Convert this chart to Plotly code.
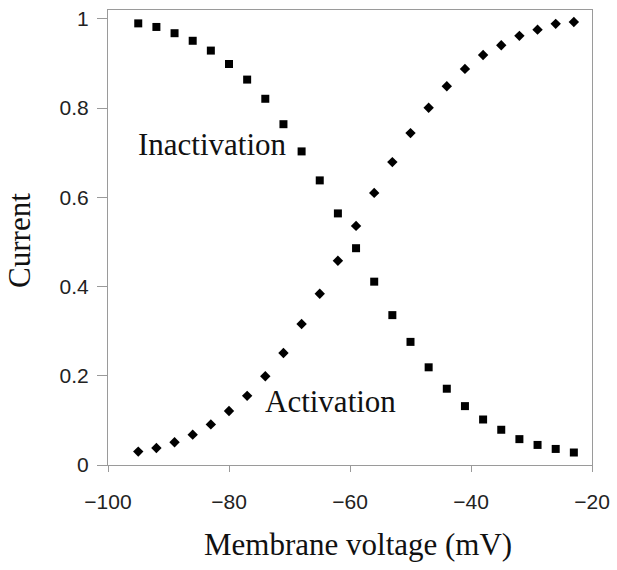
import plotly.graph_objects as go

# Membrane voltage steps (mV)
voltage = [-95, -92, -89, -86, -83, -80, -77, -74, -71, -68, -65, -62, -59,
           -56, -53, -50, -47, -44, -41, -38, -35, -32, -29, -26, -23]

# Normalised current for the inactivation protocol (squares)
inactivation = [0.990, 0.982, 0.968, 0.951, 0.929, 0.899, 0.864, 0.821, 0.764,
                0.703, 0.638, 0.564, 0.486, 0.411, 0.336, 0.276, 0.219, 0.171,
                0.132, 0.102, 0.079, 0.058, 0.045, 0.036, 0.028]

# Normalised current for the activation protocol (diamonds)
activation = [0.030, 0.038, 0.051, 0.068, 0.091, 0.121, 0.155, 0.199, 0.251,
              0.316, 0.384, 0.458, 0.536, 0.610, 0.679, 0.744, 0.801, 0.849,
              0.888, 0.919, 0.941, 0.962, 0.976, 0.989, 0.993]

x_ticks = [-100, -80, -60, -40, -20]
y_ticks = [0, 0.2, 0.4, 0.6, 0.8, 1]

serif = "Liberation Serif, Times New Roman, serif"
sans = "Liberation Sans, Arial, sans-serif"
grey = "#9a9a9a"

fig = go.Figure()
fig.add_trace(go.Scatter(
    x=voltage, y=inactivation, mode="markers", name="Inactivation",
    marker=dict(symbol="square", size=8, color="black"),
))
fig.add_trace(go.Scatter(
    x=voltage, y=activation, mode="markers", name="Activation",
    marker=dict(symbol="diamond", size=8, color="black"),
))

fig.add_annotation(x=-95.4, y=0.718, text="Inactivation", showarrow=False,
                   xanchor="left", yanchor="middle",
                   font=dict(family=serif, size=31, color="#111"))
fig.add_annotation(x=-74.4, y=0.143, text="Activation", showarrow=False,
                   xanchor="left", yanchor="middle",
                   font=dict(family=serif, size=31, color="#111"))

# Axis titles
fig.add_annotation(xref="paper", yref="paper", x=0.517, y=-0.174,
                   text="Membrane voltage (mV)", showarrow=False,
                   xanchor="center", yanchor="middle",
                   font=dict(family=serif, size=31, color="#111"))
fig.add_annotation(xref="paper", yref="paper", x=-0.184, y=0.4945,
                   text="Current", showarrow=False, textangle=-90,
                   xanchor="center", yanchor="middle",
                   font=dict(family=serif, size=31, color="#111"))

fig.update_xaxes(
    range=[-100, -20], tickvals=x_ticks, showgrid=False, zeroline=False,
    showline=True, linecolor=grey, linewidth=1, mirror=True,
    ticks="outside", ticklen=6, tickcolor=grey, ticklabelstandoff=12,
    tickfont=dict(family=sans, size=21, color="#222"),
)
fig.update_yaxes(
    range=[0, 1.02], tickvals=y_ticks, showgrid=False, zeroline=False,
    showline=True, linecolor=grey, linewidth=1, mirror=True,
    ticks="outside", ticklen=10, tickcolor=grey, ticklabelstandoff=4,
    tickfont=dict(family=sans, size=21, color="#222"),
)

fig.update_layout(
    width=617, height=570,
    margin=dict(l=108, r=19, t=7, b=105),
    paper_bgcolor="white", plot_bgcolor="white",
    showlegend=False,
)

fig.write_html("out.html")
